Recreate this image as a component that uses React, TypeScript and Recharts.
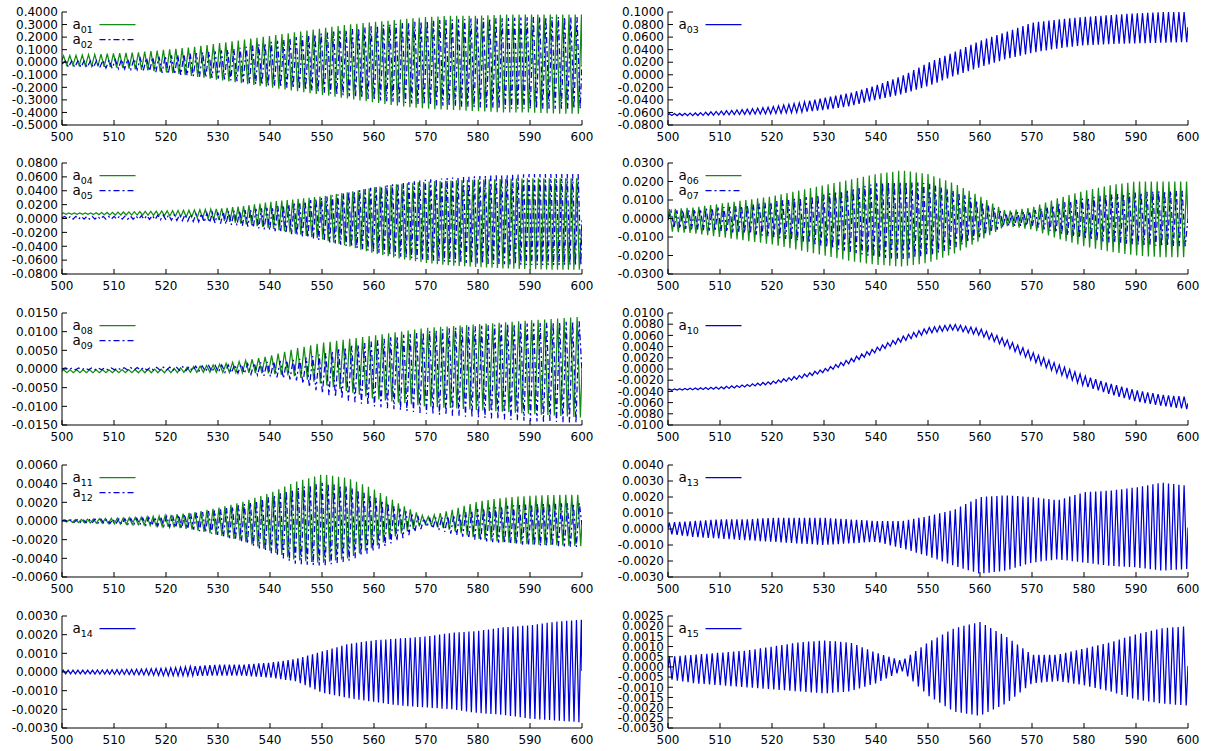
import React from 'react';
import { LineChart, Line, XAxis, YAxis } from 'recharts';

// ---------- data ----------
const ENV_X = [500, 505, 510, 515, 520, 525, 530, 535, 540, 545, 550, 555, 560, 565, 570, 575, 580, 585, 590, 595, 600];
const X_TICKS = [500, 510, 520, 530, 540, 550, 560, 570, 580, 590, 600];

// envelope (upper = peaks, lower = troughs) at ENV_X
const A01_UP = [0.05, 0.06, 0.07, 0.08, 0.10, 0.12, 0.15, 0.18, 0.21, 0.24, 0.27, 0.30, 0.32, 0.34, 0.36, 0.37, 0.37, 0.38, 0.38, 0.38, 0.38];
const A01_LO = [-0.02, -0.03, -0.04, -0.06, -0.08, -0.11, -0.14, -0.17, -0.20, -0.23, -0.26, -0.29, -0.32, -0.35, -0.37, -0.38, -0.39, -0.40, -0.40, -0.41, -0.41];
const A02_UP = [0.01, 0.01, 0.02, 0.03, 0.05, 0.07, 0.09, 0.12, 0.16, 0.20, 0.23, 0.26, 0.29, 0.31, 0.33, 0.34, 0.35, 0.35, 0.36, 0.36, 0.36];
const A02_LO = [-0.04, -0.04, -0.05, -0.06, -0.09, -0.11, -0.13, -0.16, -0.19, -0.21, -0.24, -0.27, -0.30, -0.32, -0.34, -0.35, -0.36, -0.37, -0.37, -0.37, -0.37];
const A03_UP = [-0.062, -0.061, -0.058, -0.055, -0.051, -0.045, -0.037, -0.029, -0.017, -0.002, 0.019, 0.036, 0.054, 0.068, 0.083, 0.088, 0.092, 0.095, 0.098, 0.100, 0.100];
const A03_LO = [-0.065, -0.065, -0.064, -0.063, -0.062, -0.060, -0.056, -0.050, -0.040, -0.031, -0.018, -0.002, 0.012, 0.025, 0.035, 0.042, 0.047, 0.049, 0.050, 0.051, 0.052];
const A04_UP = [0.008, 0.008, 0.009, 0.010, 0.011, 0.012, 0.014, 0.018, 0.024, 0.028, 0.032, 0.038, 0.045, 0.050, 0.053, 0.055, 0.056, 0.057, 0.058, 0.058, 0.058];
const A04_LO = [0.006, 0.006, 0.005, 0.005, 0.004, 0.002, -0.002, -0.008, -0.014, -0.022, -0.030, -0.040, -0.050, -0.058, -0.064, -0.068, -0.070, -0.072, -0.073, -0.074, -0.074];
const A05_UP = [0.003, 0.003, 0.003, 0.004, 0.005, 0.006, 0.009, 0.012, 0.016, 0.022, 0.030, 0.038, 0.045, 0.051, 0.056, 0.059, 0.061, 0.063, 0.064, 0.064, 0.064];
const A05_LO = [-0.001, -0.001, -0.001, -0.001, -0.002, -0.004, -0.007, -0.011, -0.017, -0.024, -0.032, -0.040, -0.048, -0.055, -0.060, -0.063, -0.065, -0.066, -0.067, -0.067, -0.067];
const A06_UP = [0.005, 0.006, 0.008, 0.010, 0.012, 0.015, 0.018, 0.021, 0.024, 0.026, 0.024, 0.019, 0.012, 0.004, 0.006, 0.011, 0.015, 0.018, 0.020, 0.020, 0.020];
const A06_LO = [-0.007, -0.008, -0.010, -0.012, -0.014, -0.017, -0.020, -0.023, -0.025, -0.026, -0.024, -0.019, -0.012, -0.004, -0.006, -0.011, -0.015, -0.018, -0.020, -0.021, -0.021];
const A07_UP = [0.004, 0.005, 0.006, 0.007, 0.009, 0.011, 0.013, 0.016, 0.019, 0.020, 0.019, 0.015, 0.009, 0.003, 0.004, 0.008, 0.011, 0.013, 0.014, 0.015, 0.015];
const A07_LO = [-0.005, -0.006, -0.007, -0.008, -0.010, -0.012, -0.015, -0.018, -0.021, -0.022, -0.020, -0.016, -0.010, -0.004, -0.004, -0.008, -0.011, -0.013, -0.014, -0.015, -0.015];
const A08_UP = [-0.0002, -0.0002, -0.0002, -0.0001, 0.0000, 0.0006, 0.0012, 0.0022, 0.0035, 0.0055, 0.0070, 0.0080, 0.0090, 0.0100, 0.0110, 0.0115, 0.0120, 0.0125, 0.0130, 0.0135, 0.0140];
const A08_LO = [-0.0010, -0.0010, -0.0010, -0.0010, -0.0010, -0.0009, -0.0009, -0.0010, -0.0012, -0.0020, -0.0040, -0.0060, -0.0080, -0.0090, -0.0100, -0.0105, -0.0110, -0.0115, -0.0120, -0.0125, -0.0130];
const A09_UP = [0.0003, 0.0003, 0.0003, 0.0004, 0.0005, 0.0007, 0.0010, 0.0013, 0.0020, 0.0025, 0.0040, 0.0060, 0.0075, 0.0090, 0.0100, 0.0110, 0.0115, 0.0120, 0.0122, 0.0125, 0.0128];
const A09_LO = [-0.0002, -0.0002, -0.0002, -0.0003, -0.0003, -0.0005, -0.0008, -0.0012, -0.0020, -0.0030, -0.0065, -0.0085, -0.0100, -0.0110, -0.0120, -0.0125, -0.0130, -0.0135, -0.0140, -0.0142, -0.0145];
const A10_UP = [-0.0036, -0.0034, -0.0032, -0.0028, -0.0022, -0.0012, 0.0000, 0.0018, 0.0038, 0.0058, 0.0074, 0.0080, 0.0072, 0.0053, 0.0030, 0.0008, -0.0012, -0.0026, -0.0038, -0.0046, -0.0050];
const A10_LO = [-0.0038, -0.0037, -0.0036, -0.0032, -0.0027, -0.0018, -0.0006, 0.0010, 0.0030, 0.0049, 0.0064, 0.0070, 0.0060, 0.0040, 0.0015, -0.0008, -0.0030, -0.0045, -0.0058, -0.0066, -0.0072];
const A11_UP = [0.0001, 0.0002, 0.0003, 0.0004, 0.0006, 0.0009, 0.0014, 0.0021, 0.0030, 0.0042, 0.0050, 0.0046, 0.0034, 0.0018, 0.0004, 0.0012, 0.0021, 0.0025, 0.0027, 0.0028, 0.0028];
const A11_LO = [-0.0001, -0.0002, -0.0003, -0.0004, -0.0006, -0.0009, -0.0015, -0.0022, -0.0032, -0.0042, -0.0045, -0.0040, -0.0028, -0.0014, -0.0003, -0.0010, -0.0019, -0.0023, -0.0025, -0.0026, -0.0027];
const A12_UP = [0.0001, 0.0002, 0.0002, 0.0003, 0.0005, 0.0008, 0.0012, 0.0018, 0.0026, 0.0035, 0.0041, 0.0037, 0.0026, 0.0013, 0.0002, 0.0006, 0.0013, 0.0016, 0.0018, 0.0019, 0.0019];
const A12_LO = [-0.0001, -0.0002, -0.0003, -0.0004, -0.0006, -0.0009, -0.0015, -0.0023, -0.0034, -0.0046, -0.0048, -0.0043, -0.0032, -0.0020, -0.0006, -0.0014, -0.0021, -0.0024, -0.0026, -0.0027, -0.0028];
const A13_UP = [0.0004, 0.0005, 0.0006, 0.0006, 0.0007, 0.0007, 0.0007, 0.0006, 0.0005, 0.0005, 0.0008, 0.0012, 0.0020, 0.0021, 0.0020, 0.0018, 0.0023, 0.0024, 0.0026, 0.0029, 0.0027];
const A13_LO = [-0.0003, -0.0005, -0.0006, -0.0007, -0.0008, -0.0009, -0.0010, -0.0009, -0.0008, -0.0012, -0.0017, -0.0023, -0.0028, -0.0026, -0.0021, -0.0019, -0.0021, -0.0023, -0.0024, -0.0026, -0.0025];
const A14_UP = [0.0001, 0.0001, 0.00012, 0.00015, 0.0002, 0.0003, 0.0004, 0.0004, 0.0005, 0.0007, 0.0011, 0.0015, 0.0017, 0.0018, 0.0019, 0.0021, 0.0022, 0.0024, 0.0025, 0.0027, 0.0028];
const A14_LO = [-0.0001, -0.0001, -0.00012, -0.00015, -0.0002, -0.0002, -0.0002, -0.0002, -0.0003, -0.0005, -0.0011, -0.0014, -0.0016, -0.0018, -0.0019, -0.0020, -0.0022, -0.0023, -0.0025, -0.0026, -0.0027];
const A15_UP = [0.0005, 0.0006, 0.0007, 0.0008, 0.0010, 0.0012, 0.0013, 0.0012, 0.0007, 0.0003, 0.0012, 0.0019, 0.0022, 0.0015, 0.0006, 0.0006, 0.0009, 0.0012, 0.0016, 0.0019, 0.0020];
const A15_LO = [-0.0006, -0.0008, -0.0009, -0.0010, -0.0011, -0.0012, -0.0013, -0.0012, -0.0008, -0.0002, -0.0014, -0.0022, -0.0024, -0.0018, -0.0008, -0.0007, -0.0009, -0.0012, -0.0016, -0.0018, -0.0019];

// oscillation period (in x units) and phase, a01..a15
const PERIODS = [1.2, 1.2, 1.0, 1.05, 1.05, 1.13, 1.13, 1.25, 1.25, 1.0, 1.15, 1.15, 1.0, 0.94, 1.03];
const PHASES = [0.0, 0.35, 0.0, 0.0, 0.3, 0.0, 0.3, 0.0, 0.4, 0.0, 0.0, 0.3, 0.0, 0.0, 0.0];

// y tick labels per panel
const Y_TICKS_1L = [0.4, 0.3, 0.2, 0.1, 0, -0.1, -0.2, -0.3, -0.4, -0.5];
const Y_TICKS_1R = [0.1, 0.08, 0.06, 0.04, 0.02, 0, -0.02, -0.04, -0.06, -0.08];
const Y_TICKS_2L = [0.08, 0.06, 0.04, 0.02, 0, -0.02, -0.04, -0.06, -0.08];
const Y_TICKS_2R = [0.03, 0.02, 0.01, 0, -0.01, -0.02, -0.03];
const Y_TICKS_3L = [0.015, 0.01, 0.005, 0, -0.005, -0.01, -0.015];
const Y_TICKS_3R = [0.01, 0.008, 0.006, 0.004, 0.002, 0, -0.002, -0.004, -0.006, -0.008, -0.01];
const Y_TICKS_4L = [0.006, 0.004, 0.002, 0, -0.002, -0.004, -0.006];
const Y_TICKS_4R = [0.004, 0.003, 0.002, 0.001, 0, -0.001, -0.002, -0.003];
const Y_TICKS_5L = [0.003, 0.002, 0.001, 0, -0.001, -0.002, -0.003];
const Y_TICKS_5R = [0.0025, 0.002, 0.0015, 0.001, 0.0005, 0, -0.0005, -0.001, -0.0015, -0.002, -0.0025, -0.003];

// ---------- helpers ----------
function envAt(arr: number[], t: number) {
  const f = (t - ENV_X[0]) / (ENV_X[1] - ENV_X[0]);
  const i = Math.max(0, Math.min(Math.floor(f), arr.length - 2));
  const r = f - i;
  return arr[i] * (1 - r) + arr[i + 1] * r;
}

function trace(up: number[], lo: number[], idx: number) {
  const half = PERIODS[idx] / 2;
  const pts: { x: number; y: number }[] = [];
  pts.push({ x: 500, y: (up[0] + lo[0]) / 2 });
  let k = 0;
  for (let t = 500 + PHASES[idx] + half / 2; t < 600; t += half, k++) {
    pts.push({ x: t, y: k % 2 === 0 ? envAt(up, t) : envAt(lo, t) });
  }
  const n = up.length - 1;
  pts.push({ x: 600, y: (up[n] + lo[n]) / 2 });
  return pts;
}

const GREEN = '#128c12';
const BLUE = '#0000d8';
const DASH = '6 3 2 3';
const FONT = '"DejaVu Sans", Verdana, sans-serif';

type Series = { name: string; data: { x: number; y: number }[]; color: string; dash?: string };

const LEFT_X = 62;
const RIGHT_X = 668;
const ROW_TOP = [12, 163, 313, 465, 616];
const ROW_H = [113, 111, 112, 112, 112];

const fmt = (v: number) => (Math.abs(v) < 1e-12 ? '0.0000' : v.toFixed(4));

function Panel(props: {
  plotLeft: number;
  plotTop: number;
  plotH: number;
  yTicks: number[];
  series: Series[];
}) {
  const { plotLeft, plotTop, plotH, yTicks, series } = props;
  const YW = 62;
  const MT = 10;
  const MR = 20;
  const XH = 23;
  const w = YW + 520 + MR;
  const h = MT + plotH + XH;
  const yDomain: [number, number] = [Math.min(...yTicks), Math.max(...yTicks)];
  const tickStyle = { fill: '#000', fontSize: 12, fontFamily: FONT };
  return (
    <div style={{ position: 'absolute', left: plotLeft - YW, top: plotTop - MT, width: w, height: h }}>
      <LineChart width={w} height={h} margin={{ top: MT, right: MR, left: 0, bottom: 0 }}>
        <XAxis
          xAxisId="b"
          type="number"
          dataKey="x"
          domain={[500, 600]}
          ticks={X_TICKS}
          interval={0}
          allowDataOverflow
          orientation="bottom"
          height={XH}
          tickSize={-5}
          tickMargin={12}
          tick={tickStyle}
          axisLine={{ stroke: '#000' }}
          tickLine={{ stroke: '#000' }}
        />
        <XAxis
          xAxisId="t"
          type="number"
          domain={[500, 600]}
          ticks={X_TICKS}
          interval={0}
          allowDataOverflow
          orientation="top"
          height={0}
          tickSize={-5}
          tickFormatter={() => ''}
          axisLine={{ stroke: '#000' }}
          tickLine={{ stroke: '#000' }}
        />
        <YAxis
          yAxisId="l"
          type="number"
          domain={yDomain}
          ticks={yTicks}
          interval={0}
          allowDataOverflow
          width={YW}
          tickSize={-5}
          tickMargin={9}
          tickFormatter={fmt}
          tick={tickStyle}
          axisLine={{ stroke: '#000' }}
          tickLine={{ stroke: '#000' }}
        />
        <YAxis
          yAxisId="r"
          orientation="right"
          type="number"
          domain={yDomain}
          ticks={yTicks}
          interval={0}
          allowDataOverflow
          width={0}
          tickSize={-5}
          tickFormatter={() => ''}
          axisLine={{ stroke: '#000' }}
          tickLine={{ stroke: '#000' }}
        />
        {series.map((s) => (
          <Line
            key={s.name}
            xAxisId="b"
            yAxisId="l"
            data={s.data}
            dataKey="y"
            type="linear"
            stroke={s.color}
            strokeWidth={1.25}
            strokeDasharray={s.dash}
            dot={false}
            activeDot={false}
            isAnimationActive={false}
          />
        ))}
      </LineChart>
    </div>
  );
}

function LegendOverlay(props: { panels: { plotLeft: number; plotTop: number; series: Series[] }[] }) {
  return (
    <svg
      width={1210}
      height={751}
      style={{ position: 'absolute', left: 0, top: 0, pointerEvents: 'none' }}
    >
      {props.panels.map((p) =>
        p.series.map((s, i) => {
          const y = Math.round(p.plotTop + 12 + i * 15.3) + 0.5;
          return (
            <g key={s.name}>
              <text
                x={p.plotLeft + 10.5}
                y={y + 4.5}
                fontFamily={FONT}
                fontSize={13.5}
                fill="#000"
              >
                a
                <tspan fontSize={9.5} dy={3.5}>
                  {s.name.slice(1)}
                </tspan>
              </text>
              <line
                x1={p.plotLeft + 37.5}
                x2={p.plotLeft + 73.5}
                y1={y}
                y2={y}
                stroke={s.color}
                strokeWidth={1.25}
                strokeDasharray={s.dash}
              />
            </g>
          );
        })
      )}
    </svg>
  );
}

export default function App() {
  const panels = [
    { plotLeft: LEFT_X, row: 0, yTicks: Y_TICKS_1L, series: [
      { name: 'a01', data: trace(A01_UP, A01_LO, 0), color: GREEN },
      { name: 'a02', data: trace(A02_UP, A02_LO, 1), color: BLUE, dash: DASH },
    ] },
    { plotLeft: RIGHT_X, row: 0, yTicks: Y_TICKS_1R, series: [
      { name: 'a03', data: trace(A03_UP, A03_LO, 2), color: BLUE },
    ] },
    { plotLeft: LEFT_X, row: 1, yTicks: Y_TICKS_2L, series: [
      { name: 'a04', data: trace(A04_UP, A04_LO, 3), color: GREEN },
      { name: 'a05', data: trace(A05_UP, A05_LO, 4), color: BLUE, dash: DASH },
    ] },
    { plotLeft: RIGHT_X, row: 1, yTicks: Y_TICKS_2R, series: [
      { name: 'a06', data: trace(A06_UP, A06_LO, 5), color: GREEN },
      { name: 'a07', data: trace(A07_UP, A07_LO, 6), color: BLUE, dash: DASH },
    ] },
    { plotLeft: LEFT_X, row: 2, yTicks: Y_TICKS_3L, series: [
      { name: 'a08', data: trace(A08_UP, A08_LO, 7), color: GREEN },
      { name: 'a09', data: trace(A09_UP, A09_LO, 8), color: BLUE, dash: DASH },
    ] },
    { plotLeft: RIGHT_X, row: 2, yTicks: Y_TICKS_3R, series: [
      { name: 'a10', data: trace(A10_UP, A10_LO, 9), color: BLUE },
    ] },
    { plotLeft: LEFT_X, row: 3, yTicks: Y_TICKS_4L, series: [
      { name: 'a11', data: trace(A11_UP, A11_LO, 10), color: GREEN },
      { name: 'a12', data: trace(A12_UP, A12_LO, 11), color: BLUE, dash: DASH },
    ] },
    { plotLeft: RIGHT_X, row: 3, yTicks: Y_TICKS_4R, series: [
      { name: 'a13', data: trace(A13_UP, A13_LO, 12), color: BLUE },
    ] },
    { plotLeft: LEFT_X, row: 4, yTicks: Y_TICKS_5L, series: [
      { name: 'a14', data: trace(A14_UP, A14_LO, 13), color: BLUE },
    ] },
    { plotLeft: RIGHT_X, row: 4, yTicks: Y_TICKS_5R, series: [
      { name: 'a15', data: trace(A15_UP, A15_LO, 14), color: BLUE },
    ] },
  ];
  return (
    <div style={{ position: 'absolute', left: 0, top: 0, width: 1210, height: 751, background: '#fff', overflow: 'hidden' }}>
      {panels.map((p, i) => (
        <Panel
          key={i}
          plotLeft={p.plotLeft}
          plotTop={ROW_TOP[p.row]}
          plotH={ROW_H[p.row]}
          yTicks={p.yTicks}
          series={p.series}
        />
      ))}
      <LegendOverlay
        panels={panels.map((p) => ({ plotLeft: p.plotLeft, plotTop: ROW_TOP[p.row], series: p.series }))}
      />
    </div>
  );
}
